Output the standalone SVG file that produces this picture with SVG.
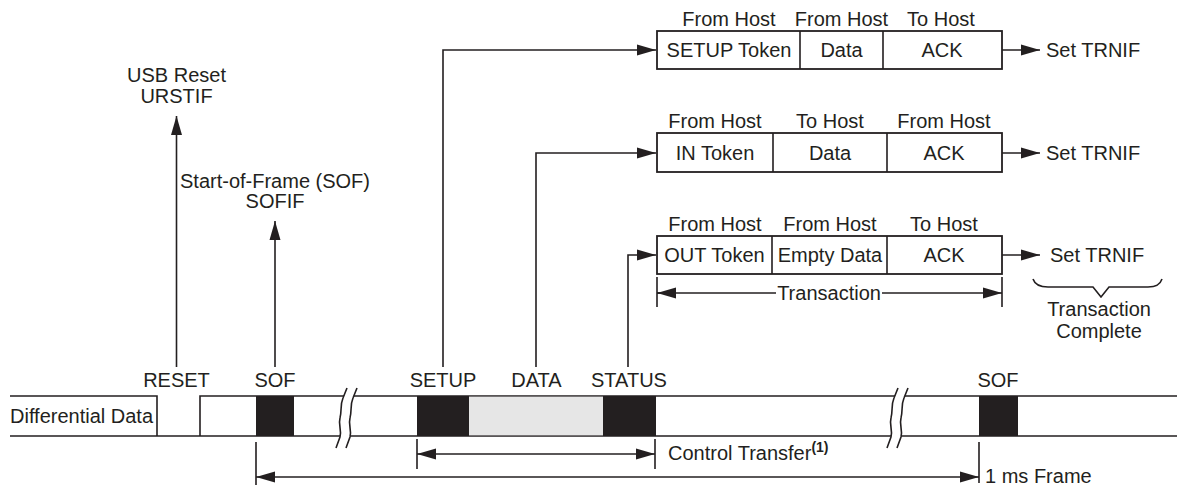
<svg xmlns="http://www.w3.org/2000/svg" width="1179" height="485" viewBox="0 0 1179 485">
<style>
text{font-family:"Liberation Sans",Arial,sans-serif;font-size:20px;fill:#231f20}
.m{text-anchor:middle}
.ln{stroke:#231f20;stroke-width:1.6;fill:none}
.bx{stroke:#231f20;stroke-width:1.8;fill:#fff}
.blk{fill:#231f20}
.arr{marker-end:url(#ah)}
.dbl{marker-start:url(#ah);marker-end:url(#ah)}
</style>
<defs>
<marker id="ah" markerUnits="userSpaceOnUse" markerWidth="20" markerHeight="12" refX="19" refY="5.5" orient="auto-start-reverse" viewBox="0 0 20 11">
<path d="M0,0 L19,5.5 L0,11 Z" fill="#231f20"/>
</marker>
<g id="brk">
<path d="M0,60 L4,49 C6,42 2,37 4,30 C6,22 4,17 7,10 L11,0 L21,0 L17,10 C14,17 16,22 14,30 C12,37 16,42 14,49 L10,60 Z" fill="#fff"/>
<path class="ln" d="M0,60 L4,49 C6,42 2,37 4,30 C6,22 4,17 7,10 L11,0"/>
<path class="ln" d="M10,60 L14,49 C16,42 12,37 14,30 C16,22 14,17 17,10 L21,0"/>
</g>
</defs>

<g id="signal">
<path class="ln" d="M10,396 H157 V436 M200,436 V396 H1177 M10,436 H1177"/>
<rect class="blk" x="256" y="396" width="38" height="40"/>
<rect class="blk" x="417" y="396" width="52" height="40"/>
<rect x="469" y="396.8" width="134" height="38.4" fill="#e6e6e6"/>
<rect class="blk" x="603" y="396" width="53" height="40"/>
<rect class="blk" x="979" y="396" width="39" height="40"/>
<use href="#brk" x="336" y="388"/>
<use href="#brk" x="887" y="388"/>
<text x="10" y="423">Differential Data</text>
<text class="m" x="176.5" y="387">RESET</text>
<text class="m" x="275" y="387">SOF</text>
<text class="m" x="443" y="387">SETUP</text>
<text class="m" x="536.5" y="387">DATA</text>
<text class="m" x="629" y="387">STATUS</text>
<text class="m" x="998" y="387">SOF</text>
</g>

<g id="usb-reset">
<text class="m" x="176.5" y="82">USB Reset</text>
<text class="m" x="176.5" y="103">URSTIF</text>
</g>
<g id="sof-flag">
<text class="m" x="275" y="188">Start-of-Frame (SOF)</text>
<text class="m" x="275" y="208">SOFIF</text>
</g>

<g id="setup-transaction">
<text class="m" x="729" y="26">From Host</text>
<text class="m" x="841.5" y="26">From Host</text>
<text class="m" x="941" y="26">To Host</text>
<rect class="bx" x="657" y="31" width="345" height="38"/>
<path class="ln" d="M800,31 V69 M883,31 V69"/>
<text class="m" x="729" y="57">SETUP Token</text>
<text class="m" x="841.5" y="57">Data</text>
<text class="m" x="942" y="57">ACK</text>
<text x="1046" y="57">Set TRNIF</text>
</g>

<g id="in-transaction">
<text class="m" x="715" y="128">From Host</text>
<text class="m" x="830" y="128">To Host</text>
<text class="m" x="944" y="128">From Host</text>
<rect class="bx" x="657" y="133" width="345" height="39"/>
<path class="ln" d="M773,133 V172 M887,133 V172"/>
<text class="m" x="715" y="160">IN Token</text>
<text class="m" x="830" y="160">Data</text>
<text class="m" x="944" y="160">ACK</text>
<text x="1046" y="160">Set TRNIF</text>
</g>

<g id="out-transaction">
<text class="m" x="715" y="231">From Host</text>
<text class="m" x="830" y="231">From Host</text>
<text class="m" x="944" y="231">To Host</text>
<rect class="bx" x="657" y="236" width="345" height="38"/>
<path class="ln" d="M772,236 V274 M887,236 V274"/>
<text class="m" x="714.5" y="262">OUT Token</text>
<text class="m" x="830" y="262">Empty Data</text>
<text class="m" x="944" y="262">ACK</text>
<text x="1050" y="262">Set TRNIF</text>
</g>

<g id="transaction-complete">
<path class="ln" d="M1033,279 C1035,285 1040,287 1048,287 H1093 L1101,297 L1109,287 H1148 C1156,287 1160,285 1162,279"/>
<text class="m" x="1099" y="316" font-size="19">Transaction</text>
<text class="m" x="1099" y="338" font-size="19">Complete</text>
</g>

<g id="connectors">
<path class="ln arr" d="M176.5,367 V116"/>
<path class="ln arr" d="M275,367 V221"/>
<path class="ln arr" d="M443,367 V50 H656"/>
<path class="ln arr" d="M536,367 V153 H656"/>
<path class="ln arr" d="M628,367 V255 H656"/>
<path class="ln arr" d="M1002,50 H1040"/>
<path class="ln arr" d="M1002,153 H1040"/>
<path class="ln arr" d="M1002,255 H1040"/>
<path class="ln" d="M657,277 V307 M1002,277 V307"/>
<path class="ln" d="M657,293 H776"/>
<path class="ln" d="M657,293 H668" style="marker-start:url(#ah)"/>
<path class="ln arr" d="M882,293 H1002"/>
<text class="m" x="829" y="300">Transaction</text>
<path class="ln" d="M417,439 V469 M655,439 V469"/>
<path class="ln dbl" d="M417,454 H655"/>
<text x="668" y="460">Control Transfer<tspan dy="-8" font-size="14" font-weight="bold">(1)</tspan></text>
<path class="ln" d="M256,442 V485 M979,442 V483"/>
<path class="ln dbl" d="M256,477 H979"/>
<text x="985" y="483">1 ms Frame</text>
</g>
</svg>
